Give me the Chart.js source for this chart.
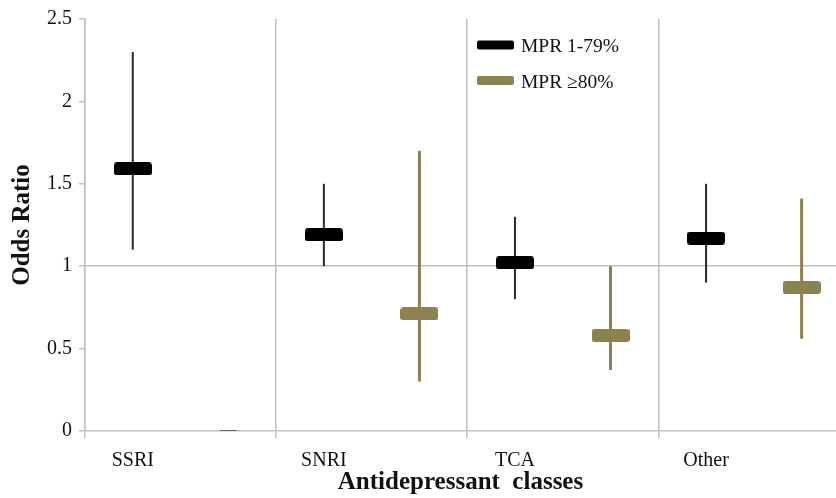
<!DOCTYPE html>
<html><head><meta charset="utf-8">
<script src="https://cdn.jsdelivr.net/npm/chart.js@4.4.0/dist/chart.umd.min.js"></script>
<style>html,body{margin:0;padding:0;background:#fff;overflow:hidden}#wrap{width:836px;height:498px;position:relative}</style>
</head><body><div id="wrap"><canvas id="c" width="836" height="498"></canvas></div>
<script>
const categories = ['SSRI', 'SNRI', 'TCA', 'Other'];
const seriesNames = ['MPR 1-79%', 'MPR \u226580%'];
const mpr1Median = [1.59, 1.19, 1.02, 1.17];
const mpr1Low = [1.10, 1.00, 0.80, 0.90];
const mpr1High = [2.30, 1.50, 1.30, 1.50];
const mpr80Median = [0, 0.71, 0.58, 0.87];
const mpr80Low = [null, 0.30, 0.37, 0.56];
const mpr80High = [null, 1.70, 1.00, 1.41];
const yTicks = [0, 0.5, 1, 1.5, 2, 2.5];

const BLACK = '#000000', OLIVE = '#8c8250', GRID = '#bfbfbf';
const OFF1 = 0.25, OFF2 = 0.75;
const FONT = '"Liberation Serif", "Times New Roman", serif';

function makeBox(color, w, h, r) {
  const c = document.createElement('canvas');
  c.width = w; c.height = h;
  const g = c.getContext('2d');
  g.fillStyle = color;
  g.beginPath();
  g.roundRect(0, 0, w, h, r);
  g.fill();
  return c;
}
const boxBlack = makeBox(BLACK, 38, 13, 3);
const boxOlive = makeBox(OLIVE, 38, 13, 3);

const whisk1 = categories.map((c, i) => ({x: i + OFF1, y: [mpr1Low[i], mpr1High[i]]}));
const whisk2 = categories.map((c, i) => mpr80Low[i] == null ? null : ({x: i + OFF2, y: [mpr80Low[i], mpr80High[i]]})).filter(v => v);
const med1 = categories.map((c, i) => ({x: i + OFF1, y: mpr1Median[i]}));
const med2 = categories.map((c, i) => ({x: i + OFF2, y: mpr80Median[i]}));

const legendPlugin = {
  id: 'inLegend',
  afterDraw(chart) {
    const ctx = chart.ctx, a = chart.chartArea;
    const items = [{label: seriesNames[0], color: BLACK}, {label: seriesNames[1], color: OLIVE}];
    ctx.save();
    items.forEach((it, i) => {
      const y = a.top + 26 + i * 35.5;
      ctx.fillStyle = it.color;
      ctx.beginPath();
      ctx.roundRect(a.left + 392, y - 4.5, 37, 9, 2);
      ctx.fill();
      ctx.fillStyle = '#111';
      ctx.font = '19.5px ' + FONT;
      ctx.textBaseline = 'middle';
      ctx.textAlign = 'left';
      ctx.fillText(it.label, a.left + 436, y + 2);
    });
    ctx.restore();
  }
};

new Chart(document.getElementById('c'), {
  type: 'bar',
  data: {
    datasets: [
      {type: 'scatter', label: seriesNames[0], data: med1, order: 0,
       pointStyle: boxBlack, pointRadius: 8, pointHoverRadius: 8},
      {type: 'scatter', label: seriesNames[1], data: med2, order: 0,
       pointStyle: ctx => (ctx.raw && ctx.raw.y === 0) ? 'line' : boxOlive,
       pointRadius: 8, pointHoverRadius: 8, borderColor: '#444', borderWidth: 1.5},
      {type: 'bar', label: 'ci1', data: whisk1, order: 1, grouped: false, maxBarThickness: 2,
       backgroundColor: '#2a2a2a', borderWidth: 0},
      {type: 'bar', label: 'ci2', data: whisk2, order: 1, grouped: false, maxBarThickness: 3,
       backgroundColor: OLIVE, borderWidth: 0}
    ]
  },
  options: {
    responsive: false,
    animation: false,
    devicePixelRatio: 1,
    layout: {autoPadding: false, padding: {top: 19, right: 0, left: 0, bottom: 0}},
    plugins: {legend: {display: false}, tooltip: {enabled: false}},
    scales: {
      x: {
        type: 'linear', min: 0, max: 3.93, offset: false,
        afterBuildTicks: s => { s.ticks = [0, 0.25, 1, 1.25, 2, 2.25, 3, 3.25].map(v => ({value: v})); },
        afterFit: s => { s.height = 67; s.paddingLeft = 0; s.paddingRight = 0; },
        ticks: {
          autoSkip: false, maxRotation: 0, padding: 11, color: '#111',
          font: {family: FONT, size: 20},
          callback: v => (Math.abs(v - Math.floor(v) - OFF1) < 1e-6) ? categories[Math.floor(v)] : ''
        },
        grid: {
          offset: false,
          color: c => (c.tick && Number.isInteger(c.tick.value)) ? GRID : 'rgba(0,0,0,0)',
          tickColor: c => (c.tick && Number.isInteger(c.tick.value)) ? GRID : 'rgba(0,0,0,0)',
          tickLength: 7, lineWidth: 1.5
        },
        border: {color: GRID, width: 1.5},
        title: {display: true, text: 'Antidepressant  classes', color: '#111',
                font: {family: FONT, size: 25, weight: 'bold'}, padding: {top: 0, bottom: 0}}
      },
      y: {
        min: 0, max: 2.5,
        afterBuildTicks: s => { s.ticks = yTicks.map(v => ({value: v})); },
        afterFit: s => { s.width = 85; },
        ticks: {padding: 7, color: '#111', font: {family: FONT, size: 20},
                callback: v => String(v)},
        grid: {
          color: c => (c.tick && c.tick.value === 1) ? GRID : 'rgba(0,0,0,0)',
          tickColor: GRID, tickLength: 6, lineWidth: 1.5
        },
        border: {color: GRID, width: 1.5},
        title: {display: true, text: 'Odds Ratio', color: '#111',
                font: {family: FONT, size: 25, weight: 'bold'}, padding: {top: 8, bottom: 0}}
      }
    }
  },
  plugins: [legendPlugin]
});
</script>
</body></html>
